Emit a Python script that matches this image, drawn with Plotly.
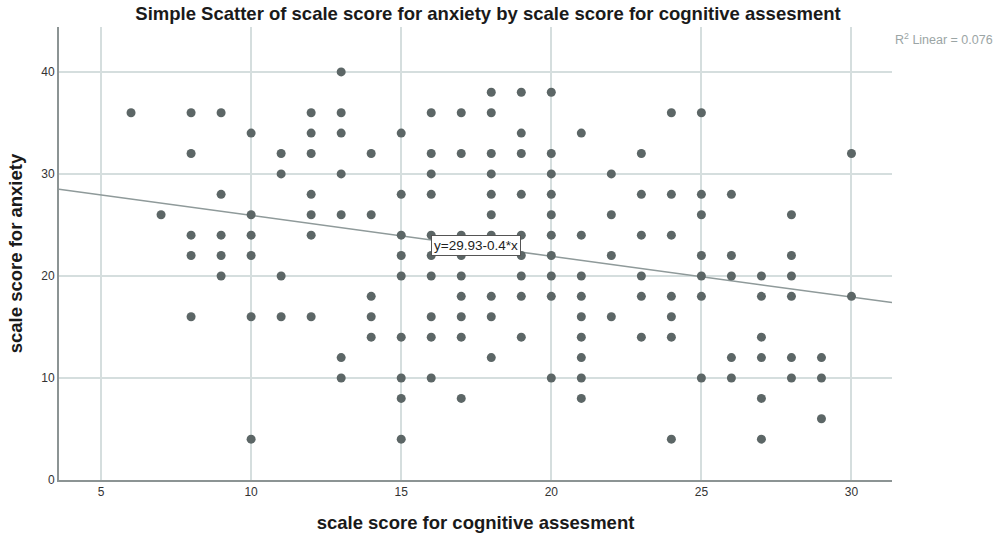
import plotly.graph_objects as go

# cognitive assessment score (x) and anxiety score (y), one pair per respondent
cognitive = [
    6,
    7,
    8, 8, 8, 8, 8,
    9, 9, 9, 9, 9,
    10, 10, 10, 10, 10, 10,
    11, 11, 11, 11,
    12, 12, 12, 12, 12, 12, 12,
    13, 13, 13, 13, 13, 13, 13,
    14, 14, 14, 14, 14,
    15, 15, 15, 15, 15, 15, 15, 15, 15,
    16, 16, 16, 16, 16, 16, 16, 16, 16, 16,
    17, 17, 17, 17, 17, 17, 17, 17, 17,
    18, 18, 18, 18, 18, 18, 18, 18, 18, 18,
    19, 19, 19, 19, 19, 19, 19, 19, 19,
    20, 20, 20, 20, 20, 20, 20, 20, 20, 20,
    21, 21, 21, 21, 21, 21, 21, 21, 21,
    22, 22, 22, 22,
    23, 23, 23, 23, 23, 23,
    24, 24, 24, 24, 24, 24, 24,
    25, 25, 25, 25, 25, 25, 25,
    26, 26, 26, 26, 26,
    27, 27, 27, 27, 27, 27,
    28, 28, 28, 28, 28, 28,
    29, 29, 29,
    30, 30,
]
anxiety = [
    36,
    26,
    36, 32, 24, 22, 16,
    36, 28, 24, 22, 20,
    34, 26, 24, 22, 16, 4,
    32, 30, 20, 16,
    36, 34, 32, 28, 26, 24, 16,
    40, 36, 34, 30, 26, 12, 10,
    32, 26, 18, 16, 14,
    34, 28, 24, 22, 20, 14, 10, 8, 4,
    36, 32, 30, 28, 24, 22, 20, 16, 14, 10,
    36, 32, 24, 22, 20, 18, 16, 14, 8,
    38, 36, 32, 30, 28, 26, 24, 18, 16, 12,
    38, 34, 32, 28, 24, 22, 20, 18, 14,
    38, 32, 30, 28, 26, 24, 22, 20, 18, 10,
    34, 24, 20, 18, 16, 14, 12, 10, 8,
    30, 26, 22, 16,
    32, 28, 24, 20, 18, 14,
    36, 28, 24, 18, 16, 14, 4,
    36, 28, 26, 22, 20, 18, 10,
    28, 22, 20, 12, 10,
    20, 18, 14, 12, 8, 4,
    26, 22, 20, 18, 12, 10,
    12, 10, 6,
    32, 18,
]

# fit line as printed on the chart
intercept = 29.93
slope = -0.4
r_squared = 0.076

x_range = [3.6, 31.35]
y_range = [0, 44.4]
x_ticks = [5, 10, 15, 20, 25, 30]
y_ticks = [0, 10, 20, 30, 40]

fit_x = x_range
fit_y = [intercept + slope * v for v in fit_x]

grid = "#d5dede"
axis_line = "#8c9494"
font = "Liberation Sans, Arial, sans-serif"

fig = go.Figure()

fig.add_trace(go.Scatter(
    x=fit_x, y=fit_y,
    mode="lines",
    line=dict(color="#8f9a9a", width=1.5),
    hoverinfo="skip",
    showlegend=False,
))

fig.add_trace(go.Scatter(
    x=cognitive, y=anxiety,
    mode="markers",
    marker=dict(size=9, color="#5c6666"),
    showlegend=False,
))

fig.add_annotation(
    x=17.48, y=23.0,
    text=f"y={intercept}{slope}*x",
    showarrow=False,
    font=dict(family=font, size=13.5, color="#222222"),
    bgcolor="white",
    bordercolor="#555555",
    borderwidth=1,
    borderpad=2,
)

fig.add_annotation(
    xref="paper", yref="paper",
    x=1.0, y=0.973,
    xanchor="left", yanchor="middle",
    xshift=1,
    text=f"R<sup>2</sup> Linear = {r_squared}",
    showarrow=False,
    font=dict(family=font, size=12.5, color="#9ba5a5"),
)

fig.update_layout(
    width=1000, height=536,
    paper_bgcolor="white",
    plot_bgcolor="white",
    margin=dict(l=59, r=108, t=27, b=56),
    font=dict(family=font, size=12, color="#333333"),
    title=dict(
        text="<b>Simple Scatter of scale score for anxiety by scale score for cognitive assesment</b>",
        x=0.488, xanchor="center",
        y=0.974, yanchor="middle",
        font=dict(family=font, size=18.5, color="#1a1a1a"),
    ),
    xaxis=dict(
        range=x_range,
        tickvals=x_ticks,
        showgrid=True, gridcolor=grid, gridwidth=1.5,
        zeroline=False,
        showline=True, linecolor=axis_line, linewidth=2,
        ticks="", ticklen=0,
        tickfont=dict(size=12),
        automargin=False,
        title=dict(
            text="<b>scale score for cognitive assesment</b>",
            font=dict(family=font, size=18.5, color="#1a1a1a"),
            standoff=18,
        ),
    ),
    yaxis=dict(
        range=y_range,
        tickvals=y_ticks,
        showgrid=True, gridcolor=grid, gridwidth=1.5,
        zeroline=False,
        showline=True, linecolor=axis_line, linewidth=2,
        ticks="", ticklen=0,
        tickfont=dict(size=12),
        automargin=False,
        title=dict(
            text="<b>scale score for anxiety</b>",
            font=dict(family=font, size=18.5, color="#1a1a1a"),
            standoff=14,
        ),
    ),
)

# drop the browser's default 8px body margin so the figure fills the window
fig.write_html(
    "out.html",
    config={"displayModeBar": False},
    post_script="document.body.style.margin = '0';",
)
